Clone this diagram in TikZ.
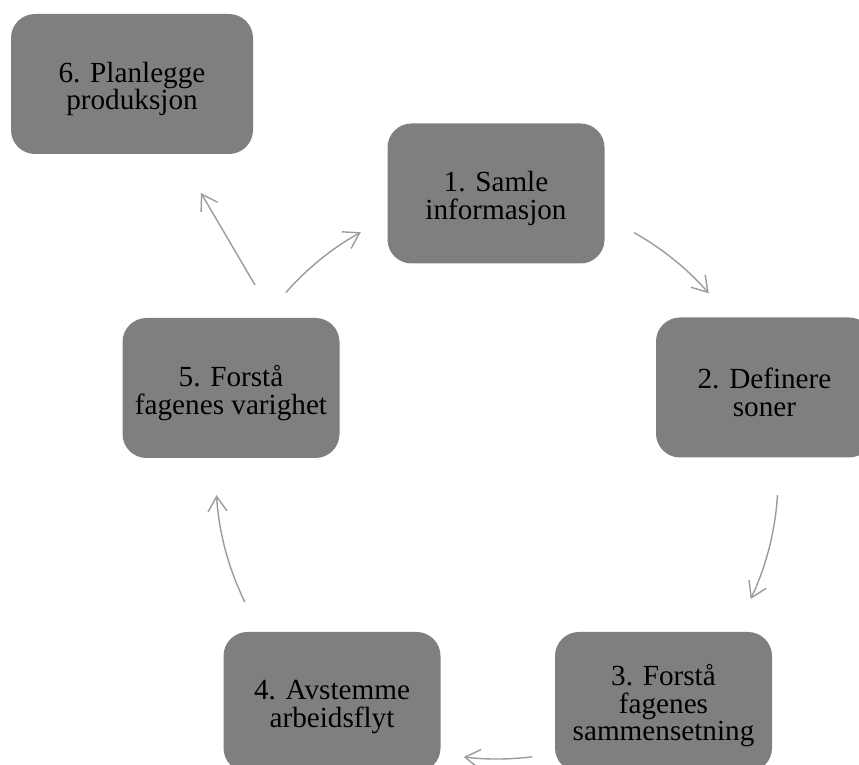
\documentclass[tikz,border=0pt]{standalone}
\usepackage{fontspec}
\setmainfont{Liberation Serif}
\usetikzlibrary{arrows.meta}

\definecolor{boxgray}{RGB}{127,127,127}
\definecolor{arrowgray}{RGB}{155,155,155}

\tikzset{
  stepbox/.style={
    fill=boxgray, draw=none, rounded corners=24pt,
    minimum width=217pt, minimum height=140pt, inner sep=0pt
  },
  steptext/.style={
    align=center, text=black, inner sep=0pt,
    font=\fontsize{29.2}{27.5}\selectfont
  },
  flow/.style={
    draw=arrowgray, line width=1.4pt,
    -{Straight Barb[length=15pt,width=19pt]}
  }
}

\begin{document}
\begin{tikzpicture}[x=1pt,y=1pt]
  \path[use as bounding box, clip] (0,0) rectangle (859,765);

  % process steps
  \node[stepbox] (b1) at (496,571.5) {};
  \node[stepbox] (b2) at (764.5,377.5) {};
  \node[stepbox] (b3) at (663.5,63) {};
  \node[stepbox] (b4) at (332,63) {};
  \node[stepbox] (b5) at (231,377) {};
  \node[stepbox, minimum width=242pt] (b6) at (132,681) {};

  % step labels, set a little below each box centre
  \node[steptext] (t1) at ([yshift=-5pt]b1.center) {1. Samle\\informasjon};
  \node[steptext] (t2) at ([yshift=-5pt]b2.center) {2. Definere\\soner};
  \node[steptext] (t3) at ([yshift=-4pt]b3.center) {3. Forstå\\fagenes\\sammensetning};
  \node[steptext] (t4) at ([yshift=-5pt]b4.center) {4. Avstemme\\arbeidsflyt};
  \node[steptext] (t5) at ([yshift=-5pt]b5.center) {5. Forstå\\fagenes varighet};
  \node[steptext] (t6) at ([yshift=-5pt]b6.center) {6. Planlegge\\produksjon};

  % cycle arrows lie on one circle through the steps
  \coordinate (ctr) at (497,287);
  \def\rr{281}
  \draw[flow] ([shift={(60.8:\rr)}]ctr)  arc[start angle=60.8,  end angle=41.1,  radius=\rr];
  \draw[flow] ([shift={(-3.5:\rr)}]ctr)  arc[start angle=-3.5,  end angle=-25.5, radius=\rr];
  \draw[flow] ([shift={(-82.8:\rr)}]ctr) arc[start angle=-82.8, end angle=-96.8, radius=\rr];
  \draw[flow] ([shift={(206.2:\rr)}]ctr) arc[start angle=206.2, end angle=183.5, radius=\rr];
  \draw[flow] ([shift={(138.7:\rr)}]ctr) arc[start angle=138.7, end angle=119.0, radius=\rr];

  % exit from the cycle to planning
  \coordinate (f5) at (255,480);
  \coordinate (f6) at (201,572);
  \draw[flow] (f5) -- (f6);
\end{tikzpicture}
\end{document}
